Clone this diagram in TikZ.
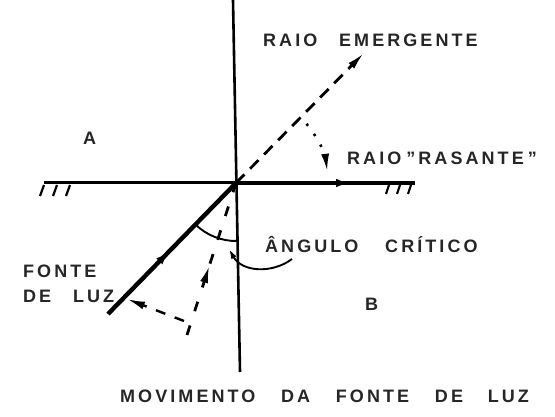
\documentclass[tikz,border=0pt]{standalone}
\usepackage{fontspec}
\setmainfont{Liberation Sans}[LetterSpace=17,WordSpace=2.7]
\usetikzlibrary{arrows.meta,decorations.markings}

\tikzset{
  raio/.style={line width=4.4pt},
  fino/.style={line width=1.9pt},
  tracos/.style={line width=2.8pt, dash pattern=on 12pt off 8pt},
  tracoslongos/.style={line width=2.8pt, dash pattern=on 10pt off 15pt},
  rotulo/.style={anchor=base west, inner sep=0pt, text=black!85, font=\fontsize{18}{20}\selectfont\bfseries},
  ponta/.style={-{Latex[length=18pt,width=8pt]}},
  setameio/.style={postaction={decorate},
    decoration={markings, mark=at position #1 with {\arrow{Latex[length=18pt,width=8pt]}}}}
}

\begin{document}
\begin{tikzpicture}[x=1pt,y=-1pt]
		\useasboundingbox (0,0) rectangle (555,417);
		% Pontos
		\coordinate (ntop) at (233,0);
		\coordinate (nbot) at (240,372);
		\coordinate (O) at (236,183);
		\coordinate (esq) at (44,183);
		\coordinate (dir) at (415,183);
		\coordinate (fonte) at (108,314);
		\coordinate (fonte2) at (187,335);
		\coordinate (emerg) at (364,53);
		\coordinate (mov) at (184,321);
		\coordinate (movtip) at (127,299);
		\coordinate (guia) at (292,259);
		% Normal
		\draw[line width=2.6pt] (ntop) -- (nbot);
		% Superficie de separacao
		\draw[line width=3pt] (esq) -- (O);
		\draw[raio, setameio=0.66] (O) -- (dir);
		% Hachuras
		\foreach \x in {44,57,70} \draw[line width=2.2pt] (\x,185) -- ++(-4,11);
		\foreach \x in {389,400,411} \draw[line width=2.2pt] (\x,185) -- ++(-3,9);
		% Raio incidente no angulo critico
		\draw[raio, setameio=0.5] (fonte) -- (O);
		% Raio incidente e raio emergente
		\draw[tracoslongos, setameio=0.46] (fonte2) -- (O);
		\draw[tracos, ponta] (O) -- (emerg);
		% Movimento da fonte
		\draw[line width=2.4pt, dash pattern=on 10pt off 10pt, ponta] (mov) -- (movtip);
		% Do emergente ao rasante
		\draw[line width=2.6pt, dash pattern=on 2.5pt off 10pt, ponta] ([shift={(-40:92)}]O) arc[start angle=-40, end angle=-7, radius=92];
		% Angulo critico
		\draw[fino] ([shift={(88.8:58)}]O) arc[start angle=88.8, end angle=134.3, radius=58];
		\draw[fino, -{Latex[length=10pt,width=6pt]}] (guia) .. controls (272,274) and (242,272) .. (229,249);
		% Textos
		\node[rotulo] (tEmerg) at (263,47) {RAIO EMERGENTE};
		\node[rotulo] (tA) at (83,145) {A};
		\node[rotulo] (tRas) at (347,165) {RAIO\hspace{5pt}"RASANTE\hspace{4pt}"};
		\node[rotulo] (tAng) at (265,253) {ÂNGULO\hspace{5pt} CRÍTICO};
		\node[rotulo] (tFonte) at (23,277) {FONTE};
		\node[rotulo] (tLuz) at (23,302) {DE LUZ};
		\node[rotulo] (tB) at (365,310) {B};
		\node[rotulo] (tMov) at (120,402) {MOVIMENTO\hspace{4pt} DA\hspace{4pt} FONTE\hspace{4pt} DE\hspace{3pt} LUZ};
\end{tikzpicture}
\end{document}
